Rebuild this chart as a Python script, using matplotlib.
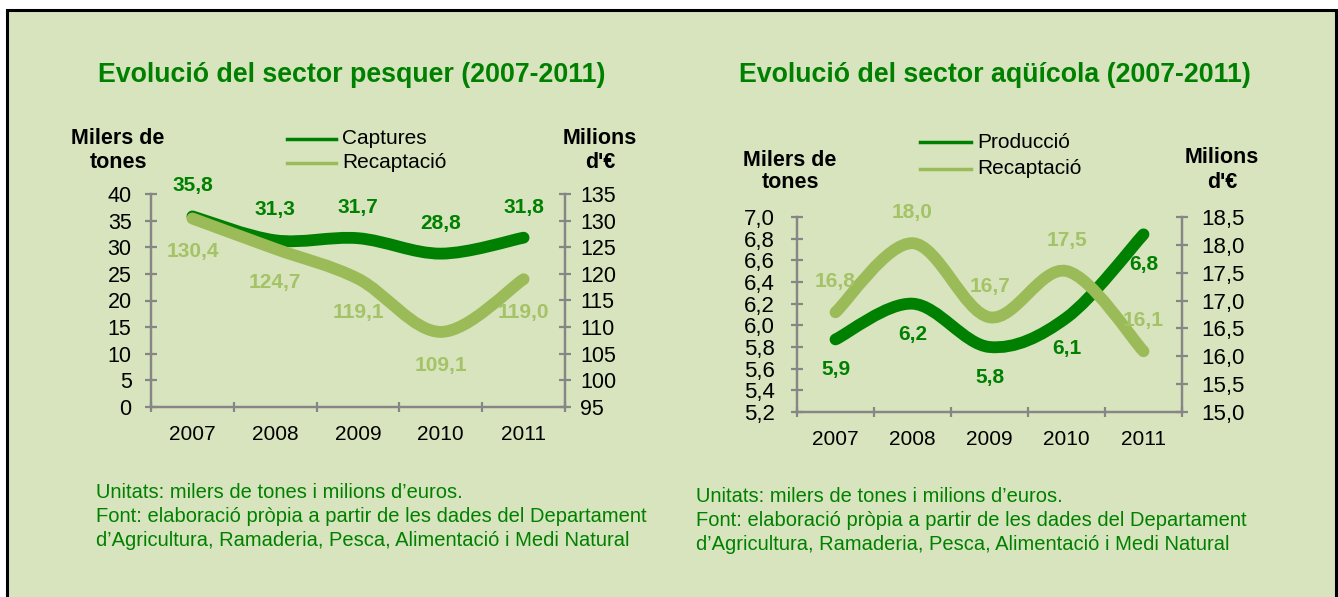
import numpy as np
import matplotlib
matplotlib.use("Agg")
from matplotlib import pyplot as plt
from matplotlib.path import Path
from matplotlib.patches import PathPatch, Rectangle
from matplotlib.lines import Line2D

plt.rcParams['font.family'] = ['Liberation Sans', 'DejaVu Sans']

# data
years = ['2007', '2008', '2009', '2010', '2011']

captures = [35.8, 31.3, 31.7, 28.8, 31.8]            # milers de tones
recaptacio_pesca = [130.4, 124.7, 119.1, 109.1, 119.0]  # milions d'euros

produccio = [5.87, 6.2, 5.8, 6.07, 6.84]             # milers de tones
recaptacio_aqui = [16.79, 18.03, 16.7, 17.53, 16.09]   # milions d'euros

left_ticks_pesca = [0, 5, 10, 15, 20, 25, 30, 35, 40]
right_ticks_pesca = [95, 100, 105, 110, 115, 120, 125, 130, 135]
left_ticks_aqui = [5.2, 5.4, 5.6, 5.8, 6.0, 6.2, 6.4, 6.6, 6.8, 7.0]
right_ticks_aqui = [15.0, 15.5, 16.0, 16.5, 17.0, 17.5, 18.0, 18.5]

DARK = '#008000'
LIGHT = '#9bbb59'
LIGHT_TXT = '#a4c266'
BG = '#d7e4bd'
GREY = '#868686'

W, H = 1338, 597
fig = plt.figure(figsize=(W / 100, H / 100), dpi=100)
fig.patch.set_facecolor('white')
fig.patches.append(Rectangle((7 / W, -0.1), 1329 / W, 1.1 - 10 / H, transform=fig.transFigure,
                             facecolor=BG, edgecolor='black', lw=2.2, zorder=-10))


def ftext(x, y, s, **kw):
    fig.text(x / W, 1 - y / H, s, **kw)


def comma(v, nd):
    return f"{v:.{nd}f}".replace('.', ',')


def smooth(x, y):
    # excel-like smoothed line drawn as bezier segments through the points
    p = np.column_stack([x, y]).astype(float)
    n = len(p)
    verts, codes = [p[0]], [Path.MOVETO]
    for i in range(n - 1):
        p0, p1, p2, p3 = p[max(i - 1, 0)], p[i], p[i + 1], p[min(i + 2, n - 1)]
        verts += [p1 + (p2 - p0) / 6, p2 - (p3 - p1) / 6, p2]
        codes += [Path.CURVE4] * 3
    return Path(verts, codes)


def make_axes(box, ylim, ylim2, lt, rt, nd_l, nd_r, pads, ysize):
    x0, x1, ytop, ybot = box
    ax = fig.add_axes([x0 / W, 1 - ybot / H, (x1 - x0) / W, (ybot - ytop) / H])
    ax2 = ax.twinx()
    for a in (ax, ax2):
        a.set_facecolor('none')
        a.spines['top'].set_visible(False)
        for s in ('left', 'right', 'bottom'):
            a.spines[s].set_color(GREY)
            a.spines[s].set_linewidth(1.6)
    ax.set_xlim(-0.5, 4.5)
    ax.set_ylim(*ylim)
    ax2.set_ylim(*ylim2)
    ax.set_yticks(lt, [comma(v, nd_l) for v in lt])
    ax2.set_yticks(rt, [comma(v, nd_r) for v in rt])
    ax.set_xticks(range(5), years)
    ax.set_xticks(np.arange(-0.5, 5, 1), minor=True)
    ax.tick_params(axis='x', which='major', length=0, pad=13, labelsize=15)
    ax.tick_params(axis='x', which='minor', length=7, width=1.6, color=GREY, direction='inout')
    ax.tick_params(axis='y', length=8, width=1.6, color=GREY, direction='inout',
                   pad=pads[0], labelsize=ysize)
    ax2.tick_params(axis='y', length=8, width=1.6, color=GREY, direction='inout',
                    pad=pads[1], labelsize=ysize)
    return ax, ax2


def draw(ax, vals, color):
    ax.add_patch(PathPatch(smooth(range(5), vals), facecolor='none', edgecolor=color, lw=8.5,
                           capstyle='round', joinstyle='round', transform=ax.transData))


def labels(ax, vals, color, dy):
    for i, v in enumerate(vals):
        ax.annotate(comma(v, 1), (i, v), xytext=(0, dy), textcoords='offset points',
                    ha='center', va='center', fontsize=15, fontweight='bold', color=color)


# sector pesquer
ax, ax2 = make_axes((151, 565, 194, 407), (0, 40), (95, 135),
                    left_ticks_pesca, right_ticks_pesca, 0, 0, (10, 7), 15.5)
draw(ax, captures, DARK)
draw(ax2, recaptacio_pesca, LIGHT)
labels(ax, captures, DARK, 22)
labels(ax2, recaptacio_pesca, LIGHT_TXT, -24)

# sector aquicola
bx, bx2 = make_axes((797, 1182, 217, 412), (5.2, 7.0), (15.0, 18.5),
                    left_ticks_aqui, right_ticks_aqui, 1, 1, (12, 10), 16)
draw(bx, produccio, DARK)
draw(bx2, recaptacio_aqui, LIGHT)
labels(bx, produccio, DARK, -22)
labels(bx2, recaptacio_aqui, LIGHT_TXT, 22)

# titles
ftext(352, 75, 'Evolució del sector pesquer (2007-2011)', ha='center', va='center',
      fontsize=19.3, fontweight='bold', color=DARK)
ftext(995, 75, 'Evolució del sector aqüícola (2007-2011)', ha='center', va='center',
      fontsize=19.3, fontweight='bold', color=DARK)

# axis titles
for (x, y), s in [((118, 139), 'Milers de'), ((118, 163), 'tones'),
                  ((600, 139), 'Milions'), ((600, 163), "d'€"),
                  ((790, 160), 'Milers de'), ((790, 183), 'tones'),
                  ((1222, 157), 'Milions'), ((1222, 183), "d'€")]:
    ftext(x, y, s, ha='center', va='center', fontsize=15.5, fontweight='bold')

# legends
for (x0, x1, y, c, s) in [(287, 336, 139, DARK, 'Captures'), (287, 336, 163, LIGHT, 'Recaptació'),
                          (920, 971, 142, DARK, 'Producció'), (920, 971, 169, LIGHT, 'Recaptació')]:
    fig.add_artist(Line2D([x0 / W, x1 / W], [1 - y / H, 1 - y / H], color=c, lw=2.5))
    ftext(x1 + 6, y, s, ha='left', va='center', fontsize=15)

# notes
notes = ['Unitats: milers de tones i milions d’euros.',
         'Font: elaboració pròpia a partir de les dades del Departament',
         'd’Agricultura, Ramaderia, Pesca, Alimentació i Medi Natural']
for i, s in enumerate(notes):
    ftext(96, 492 + 24 * i, s, ha='left', va='center', fontsize=14.5, color=DARK)
    ftext(696, 496 + 24.5 * i, s, ha='left', va='center', fontsize=14.5, color=DARK)

plt.savefig('out.png', dpi=100)
